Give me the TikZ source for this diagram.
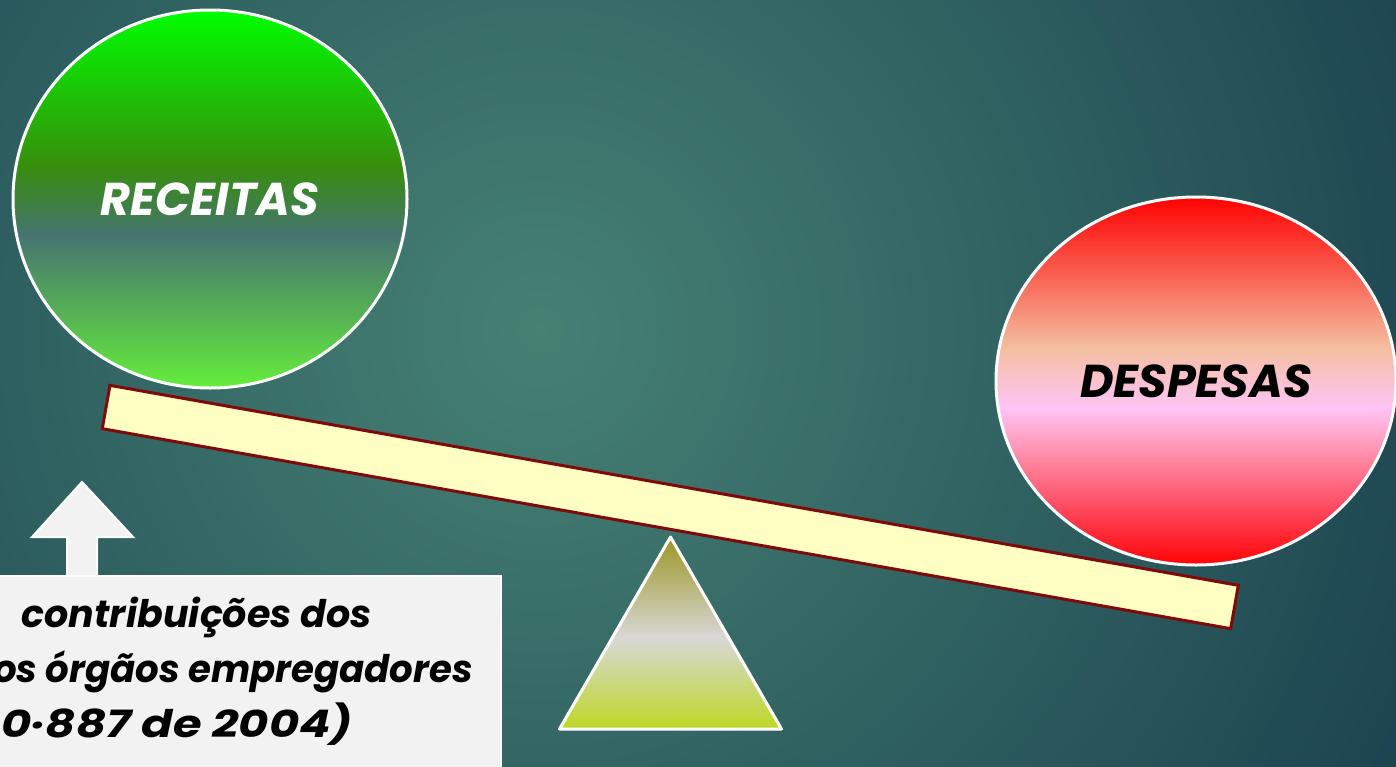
\documentclass[tikz,border=0pt]{standalone}
\usepackage{fontspec}
\setmainfont{Poppins}
\usetikzlibrary{shapes.geometric}
\definecolor{bgin}{HTML}{468174}
\definecolor{bgout}{HTML}{143849}
\definecolor{gA}{HTML}{00FF00}
\definecolor{gB}{HTML}{378E0C}
\definecolor{gC}{HTML}{467470}
\definecolor{gD}{HTML}{66F03A}
\definecolor{rA}{HTML}{FF0000}
\definecolor{rB}{HTML}{F87462}
\definecolor{rC}{HTML}{F4BFA0}
\definecolor{rD}{HTML}{FEC5F5}
\definecolor{rE}{HTML}{FF8AA5}
\definecolor{rF}{HTML}{FF4A60}
\definecolor{tA}{HTML}{9A9520}
\definecolor{tB}{HTML}{D8D8D8}
\definecolor{tC}{HTML}{BCD820}
\definecolor{beamfill}{HTML}{FFFFC4}
\definecolor{beamline}{HTML}{7F0A0A}
\definecolor{boxfill}{HTML}{F2F2F2}
\tikzset{
  ball/.style={ellipse, draw=white, line width=3, inner sep=0,
    font=\fontsize{46}{56}\selectfont\bfseries\itshape},
  boxtext/.style={font=\fontsize{38}{46}\selectfont\bfseries\itshape, inner sep=0, text=black},
  plank/.style={draw=beamline, fill=beamfill, line width=3, inner sep=0},
  whiteshape/.style={fill=boxfill, draw=white, line width=2}
}
\begin{document}
\begin{tikzpicture}[x=1pt,y=-1pt]
\useasboundingbox (0,0) rectangle (1396,766);
% background
\begin{scope}
  \clip (0,0) rectangle (1396,766);
  \shade[inner color=bgin, outer color=bgout] (540,330) circle (1150);
\end{scope}
% receitas fill
\begin{scope}
  \clip (210,199) ellipse [x radius=197, y radius=189];
  \shade[top color=gA, bottom color=gB] (0,8) rectangle (420,166);
  \shade[top color=gB, bottom color=gC] (0,165) rectangle (420,236);
  \shade[top color=gC, bottom color=gD] (0,235) rectangle (420,392);
\end{scope}
\node[ball, minimum width=394, minimum height=378, text=white] (rec) at (210,199) {RECEITAS};
% despesas fill
\begin{scope}
  \clip (1196,381) ellipse [x radius=200, y radius=184];
  \shade[top color=rA, bottom color=rB] (990,195) rectangle (1400,291);
  \shade[top color=rB, bottom color=rC] (990,290) rectangle (1400,348);
  \shade[top color=rC, bottom color=rD] (990,347) rectangle (1400,408);
  \shade[top color=rD, bottom color=rE] (990,407) rectangle (1400,458);
  \shade[top color=rE, bottom color=rF] (990,457) rectangle (1400,508);
  \shade[top color=rF, bottom color=rA] (990,507) rectangle (1400,568);
\end{scope}
\node[ball, minimum width=400, minimum height=368, text=black] (desp) at (1196,381) {DESPESAS};
% beam
\node[plank, minimum width=1146, minimum height=44, rotate=-10.05] (beam) at (670.3,507) {};
% fulcrum
\coordinate (t1) at (670.5,537);
\coordinate (t2) at (559.5,729);
\coordinate (t3) at (781.5,729);
\begin{scope}
  \clip (t1) -- (t2) -- (t3) -- cycle;
  \shade[top color=tA, bottom color=tB] (550,535) rectangle (790,638);
  \shade[top color=tB, bottom color=tC] (550,637) rectangle (790,731);
\end{scope}
\draw[white, line width=3, line join=round] (t1) -- (t2) -- (t3) -- cycle;
% up arrow
\coordinate (a1) at (67,575);
\coordinate (a2) at (67,537);
\coordinate (a3) at (32,537);
\coordinate (a4) at (82,482);
\coordinate (a5) at (133,537);
\coordinate (a6) at (97,537);
\coordinate (a7) at (97,575);
\draw[whiteshape] (a1) -- (a2) -- (a3) -- (a4) -- (a5) -- (a6) -- (a7);
% text box
\node[whiteshape, rectangle, minimum width=510, minimum height=200, anchor=north west, inner sep=0] (box) at (-10,575) {};
\node[boxtext, anchor=base east] (l1) at (372,627) {contribuições dos};
\node[boxtext, anchor=base east, xscale=0.975] (l2) at (473,682) {os órgãos empregadores};
\node[boxtext, anchor=base east, xscale=1.22] (l3) at (353,737) {0·887 de 2004)};
\end{tikzpicture}
\end{document}
